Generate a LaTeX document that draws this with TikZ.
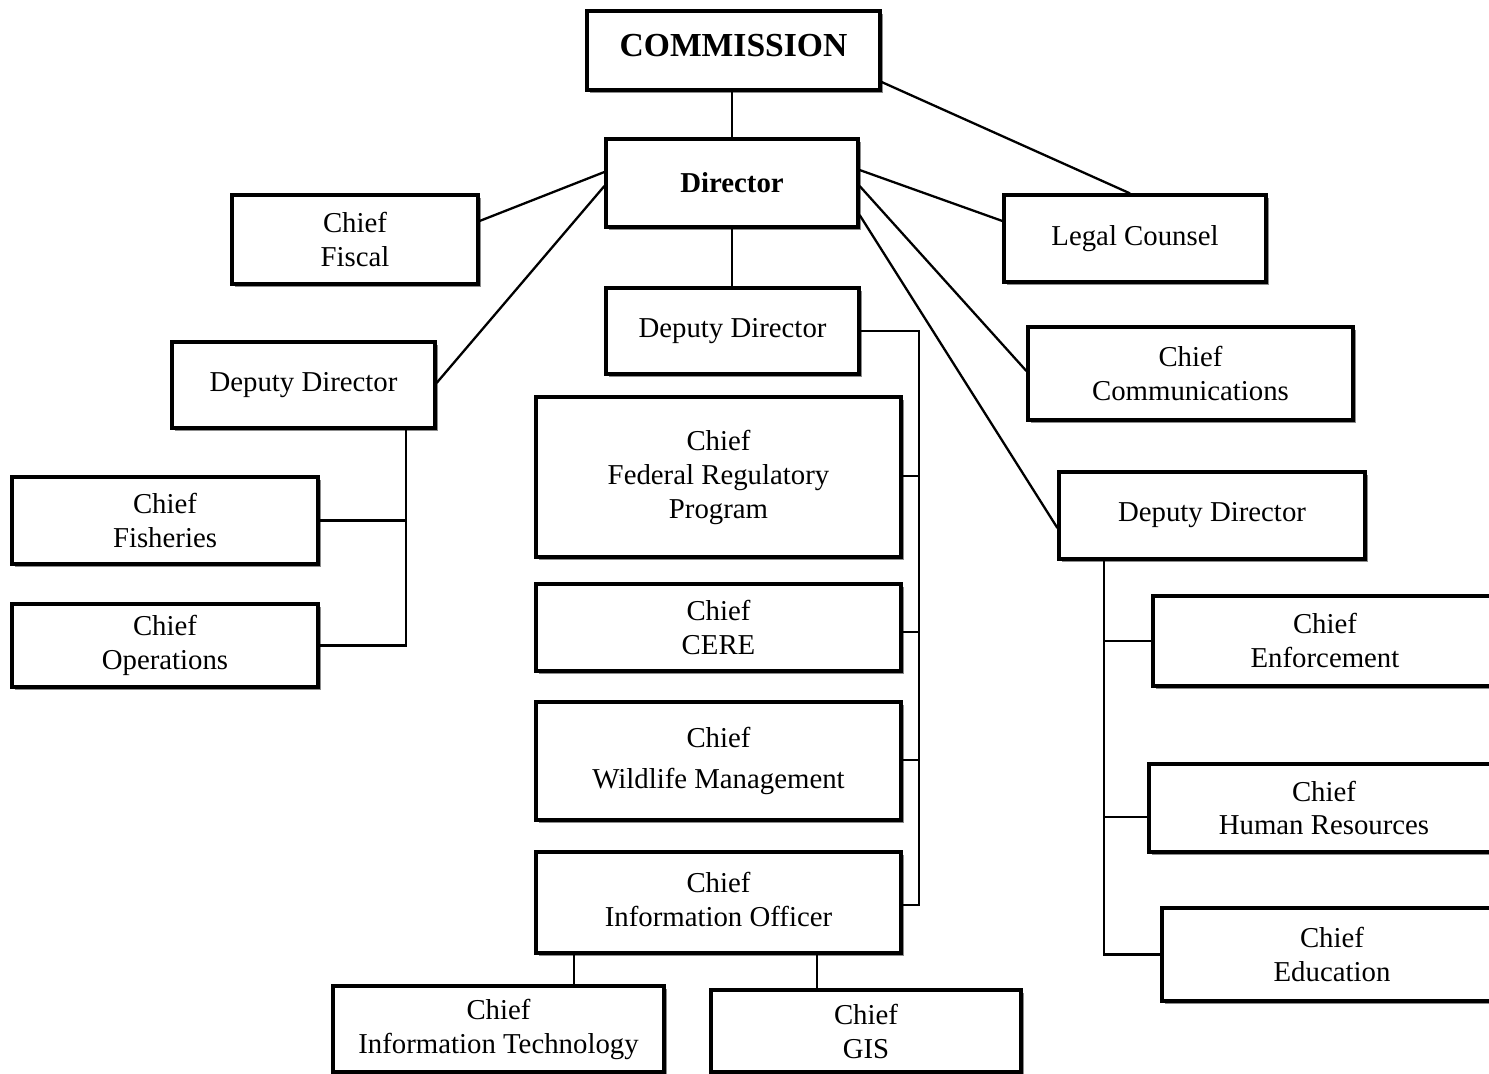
\documentclass[tikz,border=0pt]{standalone}
\usepackage{fontspec}
\setmainfont{Liberation Serif}
\usetikzlibrary{shadows}
\begin{document}
\begin{tikzpicture}[x=0.5pt,y=-0.5pt,
  box/.style={draw=black, line width=1.6pt, fill=white, align=center, inner sep=0pt,
    font=\fontsize{14.4}{17}\selectfont,
    drop shadow={shadow xshift=1.5pt, shadow yshift=-1.5pt, fill=black!60, opacity=0.75}},
  link/.style={draw=black, line width=1.15pt}]
\clip (0,0) rectangle (1489,1074);
\fill[white] (0,0) rectangle (1489,1074);
% boxes
\node[box, minimum width=146.5pt, minimum height=39.5pt] (comm) at (733.5,50.5)
  {\raisebox{5pt}{\fontsize{16.8}{19}\selectfont\bfseries COMMISSION}};
\node[box, minimum width=126pt, minimum height=44pt] (dir) at (732,183) {\bfseries Director};
\node[box, minimum width=123pt, minimum height=44.5pt] (fiscal) at (355,239.5) {Chief\\Fiscal};
\node[box, minimum width=131pt, minimum height=43.5pt] (legal) at (1135,238.5) {\raisebox{1.5pt}{Legal Counsel}};
\node[box, minimum width=126.5pt, minimum height=43pt] (depc) at (732.5,331) {Deputy Director};
\node[box, minimum width=131.5pt, minimum height=43pt] (depl) at (303.5,385) {Deputy Director};
\node[box, minimum width=162.5pt, minimum height=46.5pt] (comms) at (1190.5,373.5) {Chief\\Communications};
\node[box, minimum width=182.5pt, minimum height=80pt] (frp) at (718.5,477) {Chief\\Federal Regulatory\\Program};
\node[box, minimum width=153pt, minimum height=43.5pt] (depr) at (1212,515.5) {Deputy Director};
\node[box, minimum width=153pt, minimum height=43.5pt] (fish) at (165,520.5) {Chief\\Fisheries};
\node[box, minimum width=153pt, minimum height=41.5pt] (ops) at (165,645.5) {Chief\\Operations};
\node[box, minimum width=182.5pt, minimum height=43.5pt] (cere) at (718.5,627.5) {Chief\\CERE};
\node[box, minimum width=172pt, minimum height=45pt] (enf) at (1325,641) {Chief\\Enforcement};
\node[box, minimum width=182.5pt, minimum height=59pt] (wild) at (718.5,761) {Chief\\[3.5pt]Wildlife Management};
\node[box, minimum width=175pt, minimum height=44pt] (hr) at (1324,808) {Chief\\Human Resources};
\node[box, minimum width=170pt, minimum height=46.5pt] (edu) at (1332,954.5) {Chief\\Education};
\node[box, minimum width=182.5pt, minimum height=50.5pt] (cio) at (718.5,902.5) {\raisebox{3pt}{\begin{tabular}{@{}c@{}}Chief\\Information Officer\end{tabular}}};
\node[box, minimum width=165.5pt, minimum height=43pt] (it) at (498.5,1029) {Chief\\Information Technology};
\node[box, minimum width=155pt, minimum height=41pt] (gis) at (866,1031) {Chief\\GIS};
% bus coordinates
\coordinate (cbus) at (919,0);
\coordinate (lbus) at (406,0);
\coordinate (rbus) at (1104,0);
% connectors
\path[link] (dir.north |- comm.south) -- (dir.north);
\path[link] (comm.east |- 0,82) -- (1130,0 |- legal.north);
\path[link] (dir.west |- 0,172) -- (fiscal.east |- 0,221);
\path[link] (dir.west |- 0,186) -- (depl.east |- 0,383);
\path[link] (dir.east |- 0,170) -- (legal.west |- 0,221);
\path[link] (dir.east |- 0,186) -- (comms.west |- 0,371);
\path[link] (dir.east |- 0,215) -- (depr.west |- 0,528);
\path[link] (dir.south) -- (dir.south |- depc.north);
% center bus
\path[link] (depc.east) -- (cbus |- depc.east) -- (cbus |- 0,905) -- (cio.east |- 0,905);
\path[link] (frp.east |- 0,476) -- (cbus |- 0,476);
\path[link] (cere.east |- 0,632) -- (cbus |- 0,632);
\path[link] (wild.east |- 0,760) -- (cbus |- 0,760);
% left bus
\path[link] (depl.south -| lbus) -- (lbus |- ops.east) -- (ops.east);
\path[link] (fish.east) -- (lbus |- fish.east);
% right bus
\path[link] (depr.south -| rbus) -- (rbus |- edu.west) -- (edu.west);
\path[link] (enf.west) -- (rbus |- enf.west);
\path[link] (hr.west |- 0,817) -- (rbus |- 0,817);
% CIO children
\path[link] (574,0 |- cio.south) -- (574,0 |- it.north);
\path[link] (817,0 |- cio.south) -- (817,0 |- gis.north);
\end{tikzpicture}
\end{document}
